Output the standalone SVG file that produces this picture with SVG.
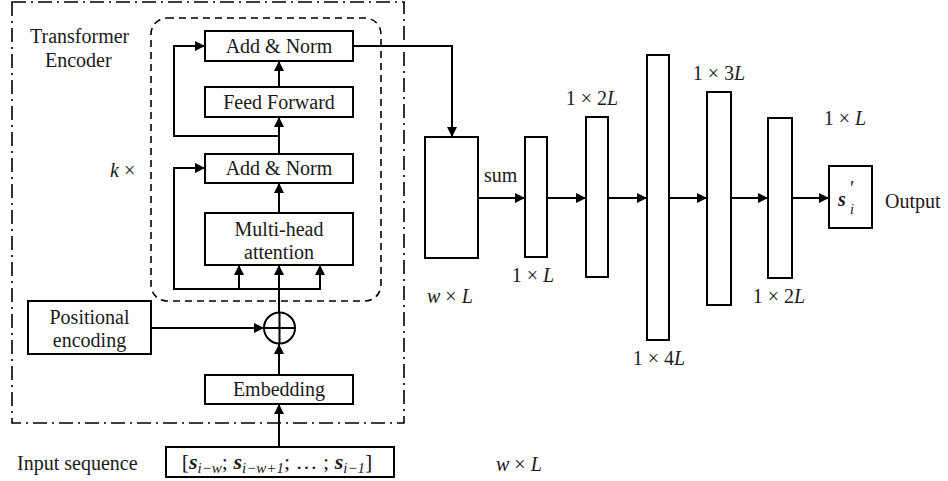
<svg xmlns="http://www.w3.org/2000/svg" width="948" height="481" viewBox="0 0 948 481" font-family="Liberation Serif, Tinos, Times New Roman, DejaVu Serif, serif">
  <style>
    .box { fill: #fff; stroke: #000; stroke-width: 2; }
    .ln { fill: none; stroke: #000; stroke-width: 2; }
    text { font-family: "Liberation Serif", Tinos, "Times New Roman", "DejaVu Serif", serif; font-size: 20px; fill: #1a1a1a; }
    .it { font-style: italic; }
    .bi { font-style: italic; font-weight: bold; }
    .sub { font-size: 14px; font-style: italic; }
    .seq { font-size: 22px; }
    .seq .sub { font-size: 15px; }
  </style>
  <defs>
    <marker id="arr" viewBox="0 0 10 10" refX="10" refY="5" markerWidth="10" markerHeight="10" markerUnits="userSpaceOnUse" orient="auto">
      <path d="M0,0 L10,5 L0,10 Z" fill="#000"/>
    </marker>
  </defs>

  <rect width="948" height="481" fill="#fff"/>

  <!-- encoder frame and repeated block -->
  <rect x="12" y="2" width="392" height="421" fill="none" stroke="#000" stroke-width="1.6" stroke-dasharray="14,5,2,5"/>
  <rect x="151" y="18" width="230" height="283" rx="16" ry="16" fill="none" stroke="#000" stroke-width="1.6" stroke-dasharray="7,5"/>
  <text x="30" y="43">Transformer</text>
  <text x="45" y="67">Encoder</text>
  <text x="110" y="177"><tspan class="it">k</tspan> ×</text>

  <!-- connectors -->
  <g id="connectors">
    <!-- encoder internals -->
    <line class="ln" x1="279" y1="213" x2="279" y2="183" marker-end="url(#arr)"/>
    <line class="ln" x1="279" y1="154" x2="279" y2="117" marker-end="url(#arr)"/>
    <line class="ln" x1="279" y1="87" x2="279" y2="61" marker-end="url(#arr)"/>
    <polyline class="ln" points="279,136 174,136 174,46 205,46" marker-end="url(#arr)"/>
    <polyline class="ln" points="174,290 174,168 205,168" marker-end="url(#arr)"/>
    <line class="ln" x1="173" y1="289" x2="321" y2="289"/>
    <line class="ln" x1="239" y1="289" x2="239" y2="265" marker-end="url(#arr)"/>
    <line class="ln" x1="279" y1="312" x2="279" y2="265" marker-end="url(#arr)"/>
    <line class="ln" x1="320" y1="289" x2="320" y2="265" marker-end="url(#arr)"/>
    <line class="ln" x1="151" y1="328" x2="264" y2="328" marker-end="url(#arr)"/>
    <line class="ln" x1="279" y1="375" x2="279" y2="344" marker-end="url(#arr)"/>
    <line class="ln" x1="279" y1="447" x2="279" y2="404" marker-end="url(#arr)"/>
    <!-- encoder output to dense head -->
    <polyline class="ln" points="353,46 452,46 452,137" marker-end="url(#arr)"/>
    <line class="ln" x1="478" y1="198" x2="525" y2="198" marker-end="url(#arr)"/>
    <line class="ln" x1="547" y1="198" x2="586" y2="198" marker-end="url(#arr)"/>
    <line class="ln" x1="608" y1="198" x2="647" y2="198" marker-end="url(#arr)"/>
    <line class="ln" x1="669" y1="198" x2="707" y2="198" marker-end="url(#arr)"/>
    <line class="ln" x1="731" y1="198" x2="768" y2="198" marker-end="url(#arr)"/>
    <line class="ln" x1="792" y1="198" x2="829" y2="198" marker-end="url(#arr)"/>
  </g>

  <g id="add-norm-2">
    <rect class="box" x="205" y="31" width="148" height="30"/>
    <text x="279" y="53" text-anchor="middle">Add &amp; Norm</text>
  </g>
  <g id="feed-forward">
    <rect class="box" x="205" y="87" width="148" height="30"/>
    <text x="279" y="109" text-anchor="middle">Feed Forward</text>
  </g>
  <g id="add-norm-1">
    <rect class="box" x="205" y="154" width="148" height="29"/>
    <text x="279" y="175" text-anchor="middle">Add &amp; Norm</text>
  </g>
  <g id="multi-head-attention">
    <rect class="box" x="205" y="213" width="148" height="52"/>
    <text x="279" y="236" text-anchor="middle">Multi-head</text>
    <text x="279" y="259" text-anchor="middle">attention</text>
  </g>
  <g id="add-op">
    <circle cx="279.5" cy="328" r="15.5" fill="#fff" stroke="#000" stroke-width="2"/>
    <line class="ln" x1="264" y1="328" x2="295" y2="328"/>
    <line class="ln" x1="279.5" y1="312.5" x2="279.5" y2="343.5"/>
  </g>
  <g id="positional-encoding">
    <rect class="box" x="28" y="301" width="123" height="53"/>
    <text x="89.5" y="324" text-anchor="middle">Positional</text>
    <text x="89.5" y="347" text-anchor="middle">encoding</text>
  </g>
  <g id="embedding">
    <rect class="box" x="205" y="375" width="148" height="29"/>
    <text x="279" y="396" text-anchor="middle">Embedding</text>
  </g>
  <g id="input-sequence">
    <text x="17" y="470">Input sequence</text>
    <rect class="box" x="166" y="447" width="228" height="30"/>
    <text class="seq" x="277" y="469" text-anchor="middle">[<tspan class="bi">s</tspan><tspan class="sub" dy="4">i−w</tspan><tspan dy="-4">; </tspan><tspan class="bi">s</tspan><tspan class="sub" dy="4">i−w+1</tspan><tspan dy="-4">; … ; </tspan><tspan class="bi">s</tspan><tspan class="sub" dy="4">i−1</tspan><tspan dy="-4">]</tspan></text>
    <text x="496" y="471"><tspan class="it">w</tspan> × <tspan class="it">L</tspan></text>
  </g>

  <g id="stack-w-L">
    <rect class="box" x="425" y="137" width="53" height="121"/>
    <text x="427" y="303"><tspan class="it">w</tspan> × <tspan class="it">L</tspan></text>
    <text x="484" y="182">sum</text>
  </g>
  <g id="dense-1L">
    <rect class="box" x="525" y="137" width="22" height="120"/>
    <text x="533" y="282" text-anchor="middle">1 × <tspan class="it">L</tspan></text>
  </g>
  <g id="dense-2L-a">
    <rect class="box" x="586" y="117" width="22" height="160"/>
    <text x="592" y="105" text-anchor="middle">1 × 2<tspan class="it">L</tspan></text>
  </g>
  <g id="dense-4L">
    <rect class="box" x="647" y="55" width="22" height="285"/>
    <text x="659" y="365" text-anchor="middle">1 × 4<tspan class="it">L</tspan></text>
  </g>
  <g id="dense-3L">
    <rect class="box" x="707" y="92" width="24" height="213"/>
    <text x="719" y="80" text-anchor="middle">1 × 3<tspan class="it">L</tspan></text>
  </g>
  <g id="dense-2L-b">
    <rect class="box" x="768" y="118" width="24" height="160"/>
    <text x="779" y="303" text-anchor="middle">1 × 2<tspan class="it">L</tspan></text>
  </g>
  <g id="output">
    <text x="845" y="125" text-anchor="middle">1 × <tspan class="it">L</tspan></text>
    <rect class="box" x="829" y="166" width="43" height="62"/>
    <text x="838" y="206" class="bi" font-size="22">s</text>
    <text x="850" y="195" font-size="17" font-style="normal">′</text>
    <text x="850" y="214" class="sub">i</text>
    <text x="885" y="208">Output</text>
  </g>
</svg>
